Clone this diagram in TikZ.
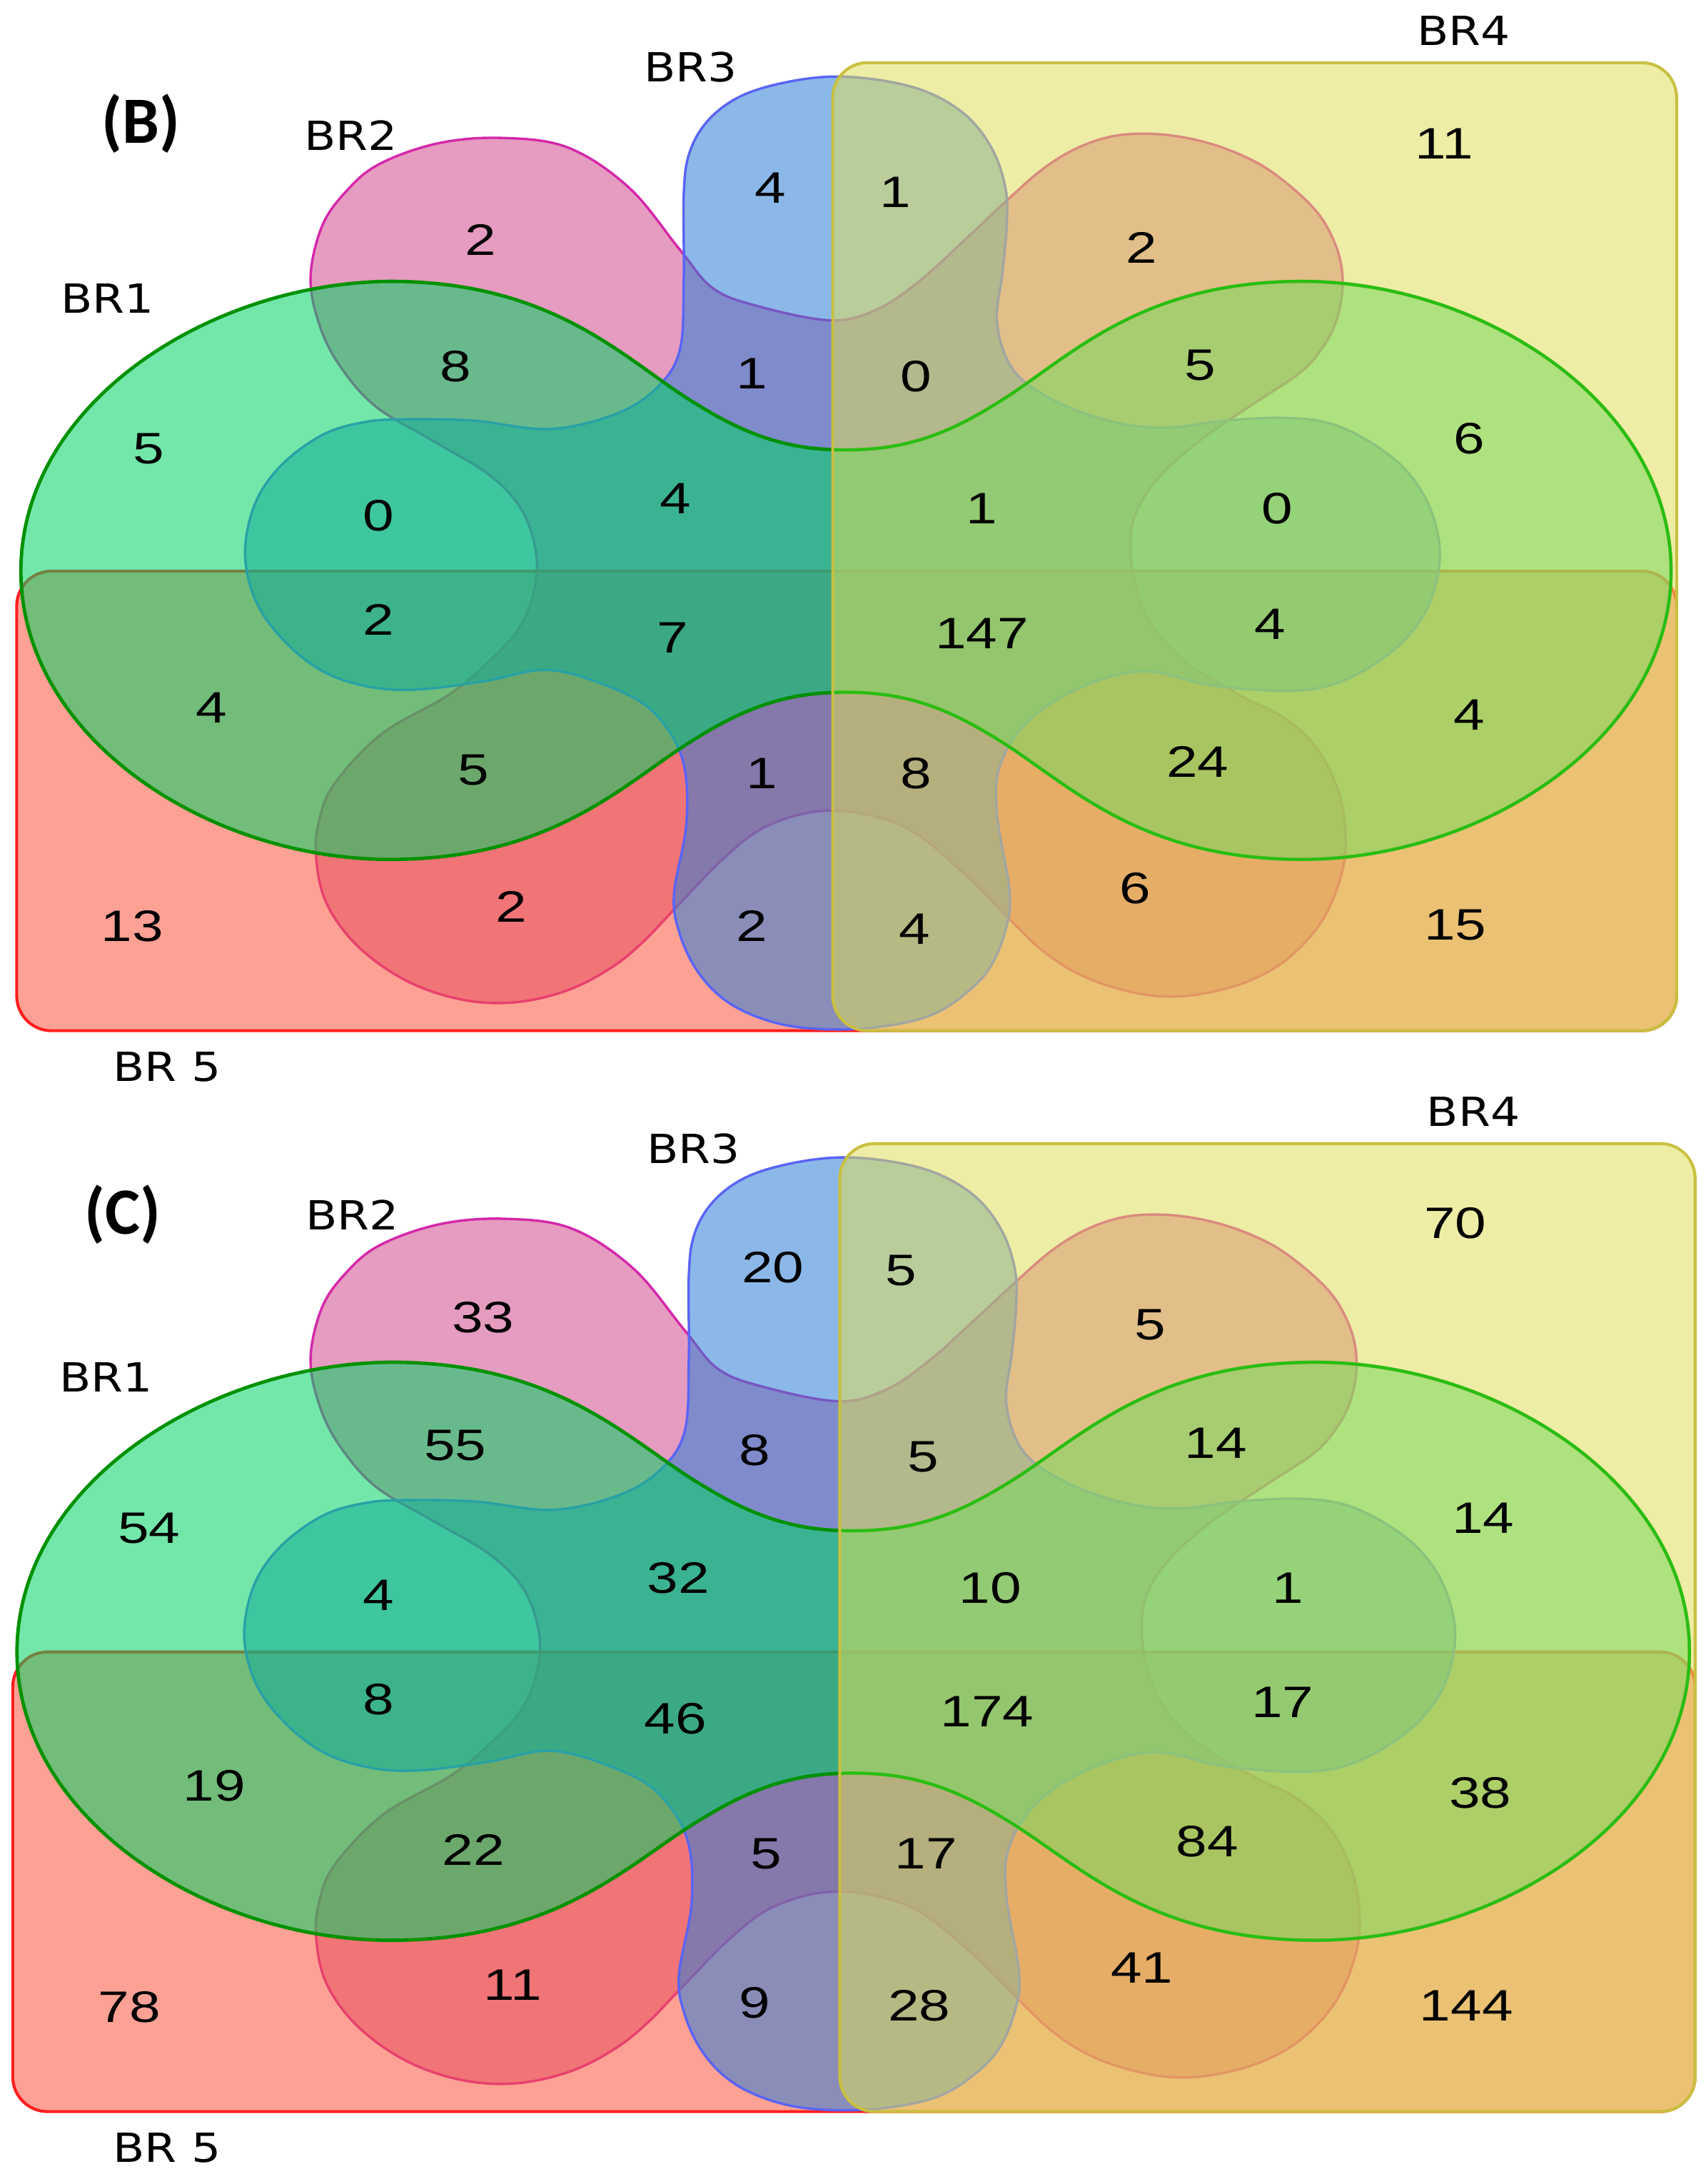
\documentclass[tikz,border=0pt]{standalone}
\usepackage{fontspec}
\setmainfont{Liberation Sans}
\newfontfamily\numfont[FakeStretch=1.27]{Liberation Sans}
\newfontfamily\setfont[FakeStretch=1.15]{DejaVu Sans}
\newfontfamily\panelfont{Carlito}

\definecolor{brgreen}{RGB}{0,212,100}
\definecolor{brgreenline}{RGB}{0,145,0}
\definecolor{brgreenlight}{RGB}{40,190,20}
\definecolor{brpink}{RGB}{210,73,140}
\definecolor{brpinkline}{RGB}{212,40,170}
\definecolor{brblue}{RGB}{45,126,215}
\definecolor{brblueline}{RGB}{90,100,245}
\definecolor{bryellow}{RGB}{222,222,91}
\definecolor{bryellowline}{RGB}{200,192,64}
\definecolor{brred}{RGB}{250,84,60}
\definecolor{brredline}{RGB}{255,30,30}

\tikzset{
  br1 set/.style={fill=brgreen, fill opacity=.55, draw=brgreenline, line width=.7pt},
  br2 set/.style={fill=brpink, fill opacity=.55, draw=brpinkline, line width=.5pt},
  br3 set/.style={fill=brblue, fill opacity=.55, draw=brblueline, line width=.5pt},
  br4 set/.style={fill=bryellow, fill opacity=.55, draw=bryellowline, line width=.6pt, rounded corners=2.5mm},
  br5 set/.style={fill=brred, fill opacity=.55, draw=brredline, line width=.6pt, rounded corners=2.5mm},
  num/.style={font=\numfont\fontsize{9}{9}\selectfont, inner sep=0pt},
  setname/.style={font=\setfont\fontsize{8.2}{8.2}\selectfont, inner sep=0pt},
  panel/.style={font=\panelfont\bfseries\fontsize{13.5}{13.5}\selectfont, inner sep=0pt}
}

% outline of BR1
\newcommand{\brgreenpath}{(15,410) .. controls (15,290) and (150,203) .. (280,202)
    .. controls (400,202) and (450,260) .. (500,290)
    .. controls (540,315) and (570,323) .. (607,323)
    .. controls (645,323) and (675,315) .. (715,290)
    .. controls (765,260) and (815,202) .. (935,202)
    .. controls (1065,202) and (1200,290) .. (1200,410)
    .. controls (1200,530) and (1065,617) .. (935,617)
    .. controls (815,617) and (765,560) .. (715,530)
    .. controls (675,505) and (645,497) .. (607,497)
    .. controls (570,497) and (540,505) .. (500,530)
    .. controls (450,560) and (400,617) .. (280,617)
    .. controls (150,617) and (15,530) .. (15,410) -- cycle}

% the five sets of one panel, in drawing order
\newcommand{\brshapes}{%
  \path[br2 set] plot[smooth cycle, tension=.6] coordinates {
    (360,99) (408,106) (452,135) (488,179) (512,207) (545,220) (597,230)
    (630,222) (660,202) (692,173) (724,143) (748,122) (772,107) (798,98)
    (825,96) (852,99) (878,106) (903,117) (922,130) (941,147) (953,163)
    (962,185) (964,208) (959,232) (948,252) (933,268) (900,290) (862,316)
    (832,343) (815,370) (812,397) (816,422) (826,447) (850,474) (892,500)
    (920,514) (944,535) (960,565) (966,595) (964,625) (950,660) (925,688)
    (895,705) (860,714) (830,715) (800,709) (772,698) (748,682) (728,663)
    (690,625) (648,593) (597,582) (553,592) (521,615) (485,652) (462,676)
    (440,694) (410,710) (375,719) (340,719) (305,710) (275,694) (250,672)
    (233,645) (227,615) (229,590) (240,563) (274,527) (322,499) (350,476)
    (372,452) (383,426) (385,397) (374,365) (350,340) (310,316) (270,292)
    (245,264) (230,235) (223,200) (231,163) (248,138) (272,118) (314,103)};
  \path[br5 set] (12,410) rectangle (1204,740);
  \path[br3 set] plot[smooth cycle, tension=.6] coordinates {
    (597,55) (635,58) (668,67) (695,84) (713,108) (722,135) (723,160)
    (720,195) (716,232) (728,266) (758,288) (800,303) (838,307) (880,302)
    (922,300) (955,304) (985,318) (1010,338) (1027,365) (1034,398)
    (1027,432) (1010,458) (985,478) (955,492) (922,496) (870,492) (821,482)
    (775,494) (738,518) (718,550) (716,585) (725,640) (722,668) (710,696)
    (690,716) (668,729) (640,736) (606,739) (570,737) (541,729) (518,716)
    (500,696) (488,670) (484,642) (493,590) (490,545) (470,512) (440,494)
    (394,481) (348,489) (300,495) (265,493) (232,482) (204,460) (184,432)
    (176,398) (183,362) (202,334) (232,312) (262,303) (291,301) (340,302)
    (394,308) (440,298) (470,280) (488,252) (491,200) (491,140) (495,110)
    (508,87) (530,70) (560,60)};
  \path[br1 set] \brgreenpath;
  \path[br4 set] (598,45) rectangle (1204,740);
  \begin{scope}
    \clip (599,40) rectangle (1210,745);
    \draw[brgreenlight, line width=.6pt] \brgreenpath;
  \end{scope}
}

\begin{document}
\begin{tikzpicture}[x=0.1mm, y=-0.1mm]
  \useasboundingbox (0,0) rectangle (1225,1568);

  % panel (B)
  \brshapes
  % panel (C), same layout a little wider
  \begin{scope}[shift={(-3,776)}, xscale=1.0135]
    \brshapes
  \end{scope}

  \node[panel] (pb) at (101,89) {(B)};
  \node[setname] (b-s1) at (77,214) {BR1};
  \node[setname] (b-s2) at (252,97) {BR2};
  \node[setname] (b-s3) at (496,48) {BR3};
  \node[setname] (b-s4) at (1051,22) {BR4};
  \node[setname] (b-s5) at (120,766) {BR 5};

  \node[num] (b1) at (1037,103) {11};
  \node[num] (b2) at (553,135) {4};
  \node[num] (b3) at (643,138) {1};
  \node[num] (b4) at (345,172) {2};
  \node[num] (b5) at (820,178) {2};
  \node[num] (b6) at (327,263) {8};
  \node[num] (b7) at (540,268) {1};
  \node[num] (b8) at (658,270) {0};
  \node[num] (b9) at (862,262) {5};
  \node[num] (b10) at (107,322) {5};
  \node[num] (b11) at (1055,315) {6};
  \node[num] (b12) at (272,370) {0};
  \node[num] (b13) at (485,358) {4};
  \node[num] (b14) at (705,365) {1};
  \node[num] (b15) at (917,365) {0};
  \node[num] (b16) at (272,445) {2};
  \node[num] (b17) at (483,458) {7};
  \node[num] (b18) at (705,455) {147};
  \node[num] (b19) at (912,448) {4};
  \node[num] (b20) at (152,508) {4};
  \node[num] (b21) at (1055,513) {4};
  \node[num] (b22) at (340,553) {5};
  \node[num] (b23) at (547,555) {1};
  \node[num] (b24) at (658,555) {8};
  \node[num] (b25) at (860,547) {24};
  \node[num] (b26) at (95,665) {13};
  \node[num] (b27) at (367,651) {2};
  \node[num] (b28) at (540,665) {2};
  \node[num] (b29) at (657,667) {4};
  \node[num] (b30) at (815,638) {6};
  \node[num] (b31) at (1045,664) {15};

  \node[panel] (pc) at (88,872) {(C)};
  \node[setname] (c-s1) at (76,989) {BR1};
  \node[setname] (c-s2) at (253,872) {BR2};
  \node[setname] (c-s3) at (498,825) {BR3};
  \node[setname] (c-s4) at (1058,798) {BR4};
  \node[setname] (c-s5) at (120,1542) {BR 5};

  \node[num] (c1) at (1045,878) {70};
  \node[num] (c2) at (555,910) {20};
  \node[num] (c3) at (647,912) {5};
  \node[num] (c4) at (347,946) {33};
  \node[num] (c5) at (826,951) {5};
  \node[num] (c6) at (327,1038) {55};
  \node[num] (c7) at (542,1041) {8};
  \node[num] (c8) at (663,1046) {5};
  \node[num] (c9) at (873,1036) {14};
  \node[num] (c10) at (107,1097) {54};
  \node[num] (c11) at (1065,1090) {14};
  \node[num] (c12) at (272,1145) {4};
  \node[num] (c13) at (487,1133) {32};
  \node[num] (c14) at (711,1140) {10};
  \node[num] (c15) at (925,1140) {1};
  \node[num] (c16) at (272,1220) {8};
  \node[num] (c17) at (485,1234) {46};
  \node[num] (c18) at (709,1229) {174};
  \node[num] (c19) at (921,1222) {17};
  \node[num] (c20) at (154,1282) {19};
  \node[num] (c21) at (1063,1287) {38};
  \node[num] (c22) at (340,1328) {22};
  \node[num] (c23) at (550,1331) {5};
  \node[num] (c24) at (665,1331) {17};
  \node[num] (c25) at (867,1322) {84};
  \node[num] (c26) at (93,1441) {78};
  \node[num] (c27) at (368,1425) {11};
  \node[num] (c28) at (542,1438) {9};
  \node[num] (c29) at (660,1440) {28};
  \node[num] (c30) at (820,1413) {41};
  \node[num] (c31) at (1053,1440) {144};
\end{tikzpicture}
\end{document}
